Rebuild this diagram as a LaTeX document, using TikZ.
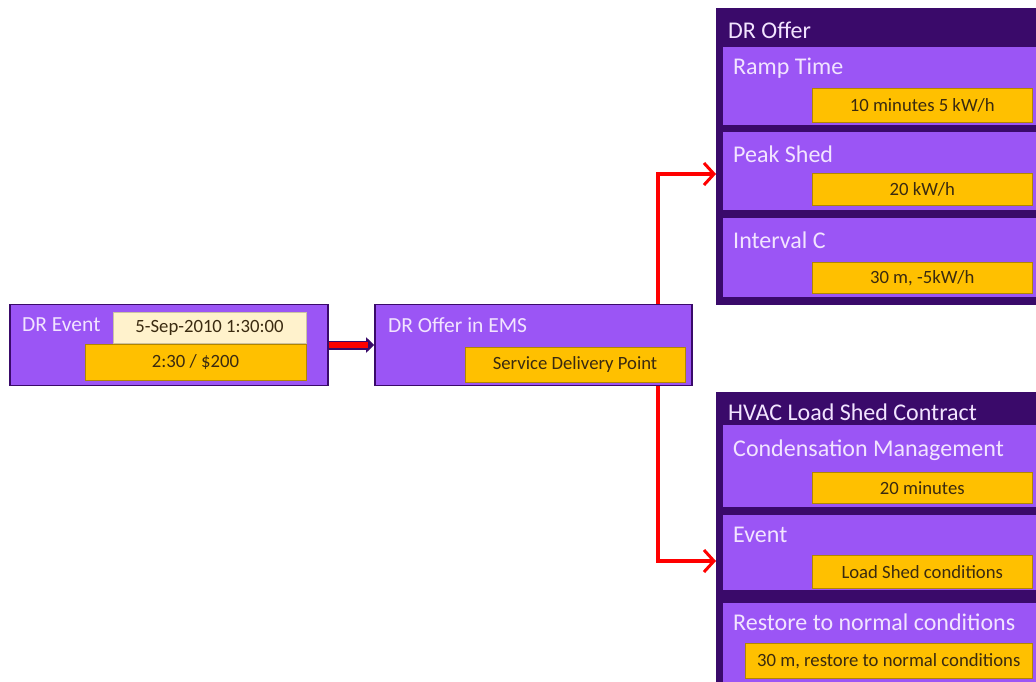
\documentclass[tikz,border=0pt]{standalone}
\usepackage{fontspec}
\setmainfont{Carlito}
\usetikzlibrary{arrows.meta}
\definecolor{lp}{HTML}{9B55F5}
\definecolor{dp}{HTML}{3A0A6A}
\definecolor{og}{HTML}{FFC000}
\definecolor{cr}{HTML}{FFF2CC}
\definecolor{lt}{HTML}{F2E4FF}
\definecolor{tx}{HTML}{3A2A10}
\definecolor{rd}{HTML}{FF0000}
\tikzset{
  px/.style={x=1pt,y=-1pt},
  outerbox/.style={draw=dp,line width=1.6pt,fill=lp},
  container/.style={draw=dp,line width=1.6pt,fill=dp},
  inner/.style={fill=lp},
  valbox/.style={fill=og,draw=og!70!black,line width=0.5pt},
  datebox/.style={fill=cr,draw=cr!80!black,line width=0.5pt},
  ttl/.style={text=lt,font=\fontsize{24}{26}\selectfont,anchor=west,inner sep=0pt},
  smttl/.style={text=lt,font=\fontsize{21.5}{24}\selectfont,anchor=west,inner sep=0pt},
  val/.style={text=tx,font=\fontsize{18.7}{20}\selectfont,inner sep=0pt},
  conn/.style={draw=rd,line width=3.5pt,-{Straight Barb[length=10pt,width=22pt,line width=3pt]}},
}
\begin{document}
\begin{tikzpicture}[px]
\useasboundingbox (0,0) rectangle (1036,681);
\clip (0,0) rectangle (1036,681);
\fill[white] (0,0) rectangle (1036,681);

% DR Event
\node[outerbox,minimum width=318pt,minimum height=81pt,inner sep=0pt] (ev) at (169,345) {};
\node[smttl] (evt) at (22,325) {DR Event};
\node[datebox,minimum width=193pt,minimum height=31pt,inner sep=0pt] (date) at (209.5,328) {};
\node[val] at (date) {5-Sep-2010 1:30:00};
\node[valbox,minimum width=221pt,minimum height=36pt,inner sep=0pt] (price) at (195.5,362) {};
\node[val] at (price) {2:30 / \$200};

% DR Offer in EMS
\node[outerbox,minimum width=317pt,minimum height=81pt,inner sep=0pt] (ems) at (533.5,345) {};
\node[smttl] at (388,325) {DR Offer in EMS};
\node[valbox,minimum width=220pt,minimum height=35pt,inner sep=0pt] (sdp) at (575,365) {};
\node[val] at (sdp) {Service Delivery Point};

% thick arrow
\draw[draw=dp,line width=9pt,-{Triangle[length=8pt,width=15pt]}] (ev.east) -- (ems.west);
\draw[draw=rd,line width=6pt,shorten >=6pt] (ev.east) -- (ems.west);

% DR Offer container
\node[container,minimum width=330pt,minimum height=295pt,inner sep=0pt,anchor=north west] (off) at (716,8) {};
\node[ttl] at (728,30) {DR Offer};
\node[inner,minimum width=320pt,minimum height=78pt,inner sep=0pt,anchor=north west] (ramp) at (723,47) {};
\node[ttl] at (733,68) {Ramp Time};
\node[valbox,minimum width=220pt,minimum height=34pt,inner sep=0pt,anchor=north west] (rampv) at (812,88) {};
\node[val] at (rampv) {10 minutes 5 kW/h};
\node[inner,minimum width=320pt,minimum height=78pt,inner sep=0pt,anchor=north west] (peak) at (723,132) {};
\node[ttl] at (733,154) {Peak Shed};
\node[valbox,minimum width=220pt,minimum height=32pt,inner sep=0pt,anchor=north west] (peakv) at (812,173) {};
\node[val] at (peakv) {20 kW/h};
\node[inner,minimum width=320pt,minimum height=79pt,inner sep=0pt,anchor=north west] (intv) at (723,218) {};
\node[ttl] at (733,240) {Interval C};
\node[valbox,minimum width=220pt,minimum height=31pt,inner sep=0pt,anchor=north west] (intvv) at (812,262) {};
\node[val] at (intvv) {30 m, -5kW/h};

% HVAC container
\node[container,minimum width=330pt,minimum height=300pt,inner sep=0pt,anchor=north west] (hv) at (716,392) {};
\node[ttl] at (728,412) {HVAC Load Shed Contract};
\node[inner,minimum width=320pt,minimum height=82pt,inner sep=0pt,anchor=north west] (cond) at (723,425) {};
\node[ttl] at (733,450) {Condensation Management};
\node[valbox,minimum width=220pt,minimum height=31pt,inner sep=0pt,anchor=north west] (condv) at (812,472) {};
\node[val] at (condv) {20 minutes};
\node[inner,minimum width=320pt,minimum height=75pt,inner sep=0pt,anchor=north west] (evn) at (723,515) {};
\node[ttl] at (733,535) {Event};
\node[valbox,minimum width=220pt,minimum height=33pt,inner sep=0pt,anchor=north west] (evnv) at (812,555) {};
\node[val] at (evnv) {Load Shed conditions};
\node[inner,minimum width=320pt,minimum height=90pt,inner sep=0pt,anchor=north west] (rest) at (723,603) {};
\node[ttl] at (733,622) {Restore to normal conditions};
\node[valbox,minimum width=287pt,minimum height=35pt,inner sep=0pt,anchor=north west] (restv) at (745,643) {};
\node[val] at (restv) {30 m, restore to normal conditions};

% connectors
\coordinate (up) at (658,174);
\coordinate (dn) at (658,561);
\draw[conn] (ems.north -| up) |- (off.west |- up);
\draw[conn] (ems.south -| dn) |- (hv.west |- dn);
\end{tikzpicture}
\end{document}
